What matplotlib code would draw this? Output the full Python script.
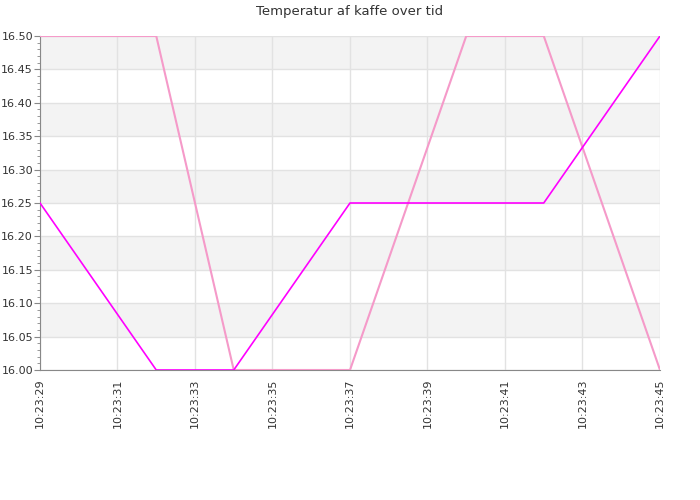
import numpy as np
import pandas as pd
import matplotlib
matplotlib.use('Agg')
import matplotlib.pyplot as plt
import matplotlib.dates as mdates
from matplotlib.ticker import MultipleLocator

# data
tider_a = ['10:23:29', '10:23:32', '10:23:34', '10:23:37', '10:23:42', '10:23:45']
temp_a = [16.25, 16.00, 16.00, 16.25, 16.25, 16.50]
tider_b = ['10:23:29', '10:23:32', '10:23:34', '10:23:37', '10:23:40', '10:23:42', '10:23:45']
temp_b = [16.50, 16.50, 16.00, 16.00, 16.50, 16.50, 16.00]

ta = pd.to_datetime(['2020-01-01 ' + t for t in tider_a])
tb = pd.to_datetime(['2020-01-01 ' + t for t in tider_b])

fig = plt.figure(figsize=(7, 5), dpi=100)
ax = fig.add_axes([40/700, 1-370/500, 620/700, 334/500])

# grå/hvide bånd
for lo in np.arange(16.05, 16.5, 0.10):
    ax.axhspan(lo, lo + 0.05, color='#f3f3f3', zorder=0, lw=0)

ax.plot(tb, temp_b, color='#f59ac9', lw=1.5, zorder=3)
ax.plot(ta, temp_a, color='#ff00ff', lw=1.2, zorder=4)

ax.set_xlim(pd.Timestamp('2020-01-01 10:23:29'), pd.Timestamp('2020-01-01 10:23:45'))
ax.set_ylim(16.0, 16.5)
ax.xaxis.set_major_locator(mdates.SecondLocator(interval=2))
ax.xaxis.set_major_formatter(mdates.DateFormatter('%H:%M:%S'))
ax.yaxis.set_major_locator(MultipleLocator(0.05))
ax.yaxis.set_minor_locator(MultipleLocator(0.01))
ax.yaxis.set_major_formatter(plt.FormatStrFormatter('%.2f'))

ax.grid(True, color='#e2e2e2', lw=1, zorder=1)
ax.set_axisbelow(True)
for s in ['top', 'right']:
    ax.spines[s].set_visible(False)
for s in ['left', 'bottom']:
    ax.spines[s].set_color('#888888')
ax.tick_params(axis='y', which='major', length=4, color='#888888', labelsize=8, labelcolor='#333333', pad=1)
ax.tick_params(axis='y', which='minor', length=2, color='#888888')
ax.tick_params(axis='x', length=0, labelsize=8, labelcolor='#333333', pad=6)
plt.setp(ax.get_xticklabels(), rotation=90)

ax.set_title('Temperatur af kaffe over tid', fontsize=9.5, color='#333333', pad=15)

fig.savefig('out.png', dpi=100)
